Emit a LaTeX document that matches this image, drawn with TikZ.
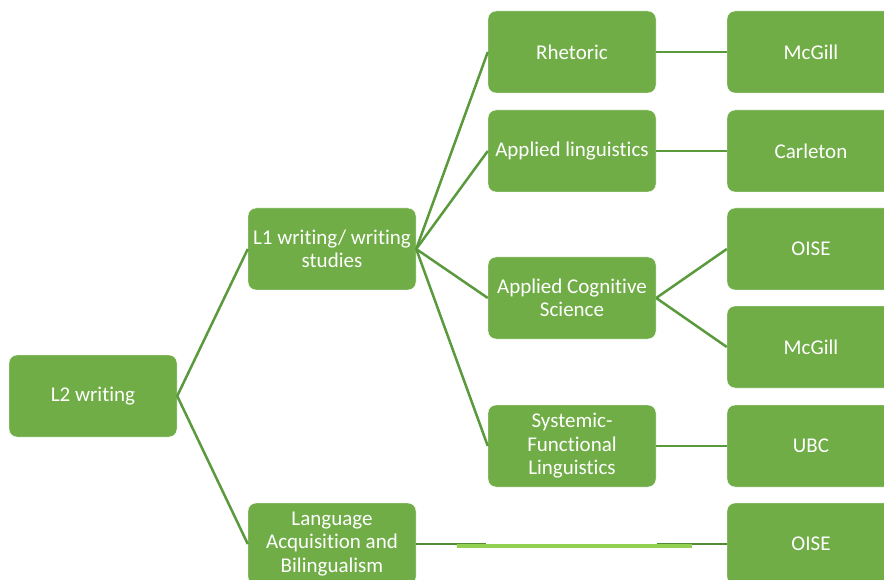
\documentclass[tikz,border=0pt]{standalone}
\usepackage{fontspec}
\setmainfont{Carlito}[Ligatures=NoCommon]
\usetikzlibrary{positioning}
\definecolor{lwgreen}{HTML}{70AD47}
\definecolor{lwdark}{HTML}{5B9A3C}
\definecolor{lwlight}{HTML}{92D050}
\tikzset{
  card/.style = {rectangle, rounded corners=8pt, fill=lwgreen, draw=white,
                 thin, text=white, minimum width=168pt, minimum height=82pt,
                 font=\fontsize{21}{23.5}\selectfont, align=center,
                 inner sep=2pt},
  link/.style = {draw=lwdark, line width=2.5pt},
  thinlink/.style = {draw=lwdark!90!black, line width=2pt},
}

\begin{document}
\begin{tikzpicture}[x=1pt,y=-1pt]
  \useasboundingbox (0,0) rectangle (884,580);
  \clip (0,0) rectangle (884,580);
  % root and first level
  \node[card] (l2)  at (93,396)  {L2 writing};
  \node[card] (l1)  at (332,249) {L1 writing/ writing\\studies};
  \node[card] (lab) at (332,544) {Language\\Acquisition and\\Bilingualism};
  % fields
  \node[card] (rhet) at (572,52)  {Rhetoric};
  \node[card] (appl) at (572,151) {Applied linguistics};
  \node[card] (acs)  at (572,298) {Applied Cognitive\\Science};
  \node[card] (sfl)  at (572,446) {Systemic-\\Functional\\Linguistics};
  % institutions
  \node[card] (mcg1) at (811,52)  {McGill};
  \node[card] (carl) at (811,151) {Carleton};
  \node[card] (ois1) at (811,249) {OISE};
  \node[card] (mcg2) at (811,347) {McGill};
  \node[card] (ubc)  at (811,446) {UBC};
  \node[card] (ois2) at (811,544) {OISE};
  \foreach \c in {l1,lab}{ \draw[link] (l2.east) -- (\c.west); }
  \foreach \c in {rhet,appl,acs,sfl}{ \draw[link] (l1.east) -- (\c.west); }
  \foreach \a/\b in {rhet/mcg1,appl/carl,acs/ois1,acs/mcg2,sfl/ubc}{
    \draw[link] (\a.east) -- (\b.west);
  }
  % broken link across the empty field slot
  \coordinate (gapl) at (486,543.5);
  \coordinate (gapr) at (657,543.5);
  \coordinate (barl) at (457,545.5);
  \coordinate (barr) at (692,545.5);
  \draw[thinlink] (lab.east |- gapl) -- (gapl);
  \draw[thinlink] (gapr) -- (ois2.west |- gapr);
  \draw[draw=lwlight, line width=4pt] (barl) -- (barr);
\end{tikzpicture}
\end{document}
